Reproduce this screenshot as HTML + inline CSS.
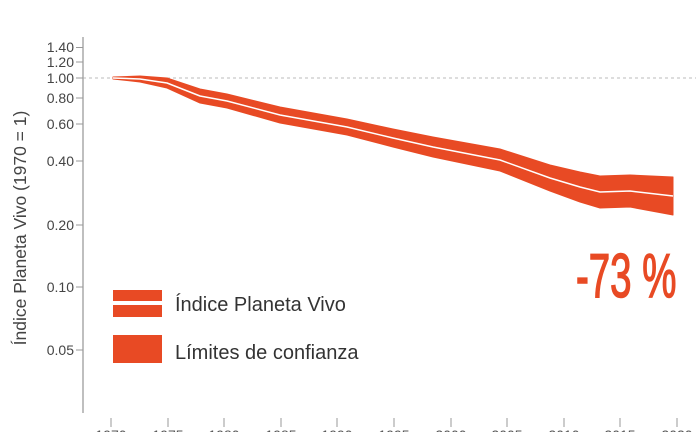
<!DOCTYPE html>
<html><head><meta charset="utf-8"><style>
html,body{margin:0;padding:0;background:#fff;width:696px;height:432px;overflow:hidden}
svg{display:block}
text{font-family:"Liberation Sans",sans-serif}
</style></head><body>
<svg width="696" height="432" viewBox="0 0 696 432" xmlns="http://www.w3.org/2000/svg">
<line x1="83" y1="78" x2="696" y2="78" stroke="#bbb" stroke-width="1" stroke-dasharray="3,3"/>
<line x1="83" y1="37" x2="83" y2="413" stroke="#aaa" stroke-width="1.5"/>
<g stroke="#999" stroke-width="1">
<line x1="76" y1="47.5" x2="83" y2="47.5"/><line x1="76" y1="62" x2="83" y2="62"/><line x1="76" y1="78" x2="83" y2="78"/><line x1="76" y1="98" x2="83" y2="98"/><line x1="76" y1="124" x2="83" y2="124"/><line x1="76" y1="161" x2="83" y2="161"/><line x1="76" y1="225" x2="83" y2="225"/><line x1="76" y1="287" x2="83" y2="287"/><line x1="76" y1="350" x2="83" y2="350"/>
</g>
<g font-size="14" fill="#444" text-anchor="end">
<text x="74" y="52">1.40</text><text x="74" y="67">1.20</text><text x="74" y="83">1.00</text><text x="74" y="103">0.80</text><text x="74" y="129">0.60</text><text x="74" y="166">0.40</text><text x="74" y="230">0.20</text><text x="74" y="292">0.10</text><text x="74" y="355">0.05</text>
</g>
<text transform="translate(26,228) rotate(-90)" font-size="17.5" fill="#444" text-anchor="middle">Índice Planeta Vivo (1970 = 1)</text>
<g stroke="#999" stroke-width="1">
<line x1="111" y1="418" x2="111" y2="427"/><line x1="168" y1="418" x2="168" y2="427"/><line x1="224" y1="418" x2="224" y2="427"/><line x1="281" y1="418" x2="281" y2="427"/><line x1="337" y1="418" x2="337" y2="427"/><line x1="394" y1="418" x2="394" y2="427"/><line x1="451" y1="418" x2="451" y2="427"/><line x1="507" y1="418" x2="507" y2="427"/><line x1="564" y1="418" x2="564" y2="427"/><line x1="620" y1="418" x2="620" y2="427"/><line x1="677" y1="418" x2="677" y2="427"/>
</g>
<g font-size="14" fill="#555" text-anchor="middle">
<text x="111" y="440">1970</text><text x="168" y="440">1975</text><text x="224" y="440">1980</text><text x="281" y="440">1985</text><text x="337" y="440">1990</text><text x="394" y="440">1995</text><text x="451" y="440">2000</text><text x="507" y="440">2005</text><text x="564" y="440">2010</text><text x="620" y="440">2015</text><text x="677" y="440">2020</text>
</g>
<path fill="#e84a24" stroke="#e84a24" stroke-width="1" stroke-linejoin="round" d="M113,77 L140,76 L167,78 L200,89 L227,94 L280,107 L347,119 L393,129 L433,137 L500,149 L550,165 L580,172 L600,176 L630,175 L673,177 L673,215 L630,207 L600,208 L580,202 L550,191 L500,171 L433,157 L393,147 L347,135 L280,123 L227,108 L200,103 L167,88 L140,82 L113,79 Z"/>
<polyline fill="none" stroke="#fff" stroke-width="1.5" stroke-linejoin="round" points="113,78 140,79 167,83 200,96 227,101 280,115 347,127 393,138 433,147 500,160 550,178 580,187 600,192 630,191 673,196"/>
<rect x="113" y="290" width="49" height="11" fill="#e84a24"/>
<rect x="113" y="305" width="49" height="12" fill="#e84a24"/>
<rect x="113" y="335" width="49" height="28" fill="#e84a24"/>
<text x="175" y="311" font-size="20" fill="#333">Índice Planeta Vivo</text>
<text x="175" y="359" font-size="20" fill="#333">Límites de confianza</text>
<text x="0" y="0" font-size="62" fill="#e84a24" stroke="#e84a24" stroke-width="1.5" transform="translate(576,297) scale(0.62,1)">-73 %</text>
</svg>
</body></html>
